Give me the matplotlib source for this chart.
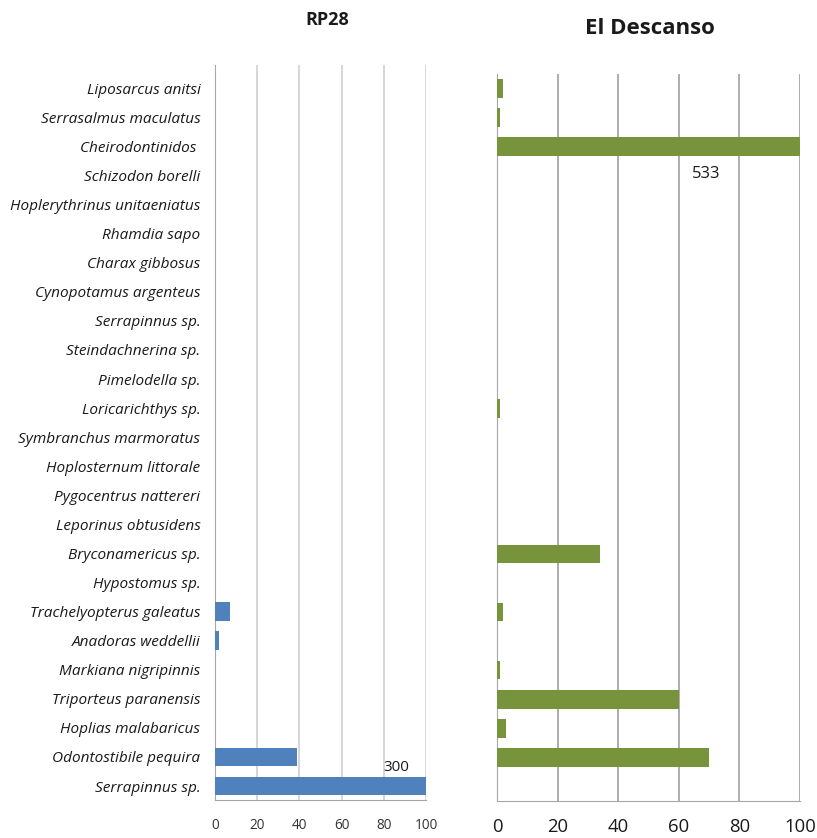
import numpy as np
import matplotlib
matplotlib.use("Agg")
import matplotlib.pyplot as plt

species = ["Liposarcus anitsi", "Serrasalmus maculatus", "Cheirodontinidos ",
           "Schizodon borelli", "Hoplerythrinus unitaeniatus", "Rhamdia sapo",
           "Charax gibbosus", "Cynopotamus argenteus", "Serrapinnus sp.",
           "Steindachnerina sp.", "Pimelodella sp.", "Loricarichthys sp.",
           "Symbranchus marmoratus", "Hoplosternum littorale", "Pygocentrus nattereri",
           "Leporinus obtusidens", "Bryconamericus sp.", "Hypostomus sp.",
           "Trachelyopterus galeatus", "Anadoras weddellii", "Markiana nigripinnis",
           "Triporteus paranensis", "Hoplias malabaricus", "Odontostibile pequira",
           "Serrapinnus sp."]
rp28 = [0, 0, 0, 0, 0, 0, 0, 0, 0, 0, 0, 0, 0, 0, 0, 0, 0, 0, 7, 2, 0, 0, 0, 39, 300]
descanso = [2, 1, 533, 0, 0, 0, 0, 0, 0, 0, 0, 1, 0, 0, 0, 0, 34, 0, 2, 0, 1, 60, 3, 70, 0]
ticks = [0, 20, 40, 60, 80, 100]

W, H = 817, 838
fig = plt.figure(figsize=(W / 100, H / 100), dpi=100)
fig.patch.set_facecolor("white")

def box(x0, y0, x1, y1):
    return [x0 / W, 1 - y1 / H, (x1 - x0) / W, (y1 - y0) / H]

y = np.arange(len(species))

# left panel: RP28
ax1 = fig.add_axes(box(215, 65, 426, 800))
ax1.barh(y, np.minimum(rp28, 100), height=0.64, color="#4F81BD", zorder=3)
ax1.set_xlim(0, 100)
ax1.set_ylim(24.48, -0.8)
ax1.set_yticks(y)
ax1.set_yticklabels(species, fontstyle="italic", fontsize=11.1, family="Open Sans", color="#1a1a1a")
ax1.tick_params(axis="y", length=0, pad=10.5)
ax1.set_xticks(ticks)
ax1.set_xticklabels([str(t) for t in ticks], fontsize=9.8, family="Open Sans", color="#333333")
ax1.tick_params(axis="x", length=0, pad=13)
ax1.grid(axis="x", color="#D0D0D0", linewidth=1.2, zorder=0)
for s in ["top", "right"]:
    ax1.spines[s].set_visible(False)
for s in ["left", "bottom"]:
    ax1.spines[s].set_color("#A6A6A6")
ax1.text(86, 23.35, "300", ha="center", va="center", fontsize=11, family="Open Sans", color="#1a1a1a")

# right panel: El Descanso
ax2 = fig.add_axes(box(497, 74, 800, 801))
ax2.barh(y, np.minimum(descanso, 100), height=0.64, color="#77933C", zorder=3)
ax2.set_xlim(0, 100)
ax2.set_ylim(24.5, -0.5)
ax2.set_yticks([])
ax2.set_xticks(ticks)
ax2.set_xticklabels([str(t) for t in ticks], fontsize=13.3, family="Open Sans", color="#1a1a1a")
ax2.tick_params(axis="x", length=0, pad=12)
ax2.grid(axis="x", color="#A0A0A0", linewidth=1.2, zorder=0)
for s in ["top", "right"]:
    ax2.spines[s].set_visible(False)
for s in ["left", "bottom"]:
    ax2.spines[s].set_color("#A6A6A6")
ax2.text(69, 2.95, "533", ha="center", va="center", fontsize=12, family="Open Sans", color="#1a1a1a")

fig.text(327 / W, 1 - 20 / H, "RP28", ha="center", va="center", fontsize=13,
         fontweight="bold", family="Open Sans", color="#1a1a1a")
fig.text(650 / W, 1 - 29 / H, "El Descanso", ha="center", va="center", fontsize=16,
         fontweight="bold", family="Open Sans", color="#1a1a1a")

fig.savefig("out.png", dpi=100, facecolor="white")
